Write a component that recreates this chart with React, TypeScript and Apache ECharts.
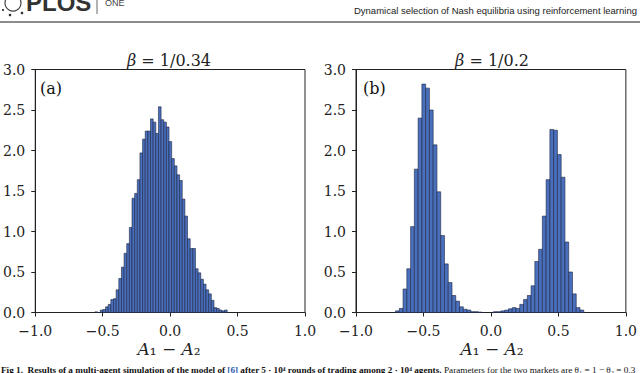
import React, { useEffect, useRef } from "react";
import * as echarts from "echarts";

// Panel (a): beta = 1/0.34 histogram
const leftBinStart = -0.557;
const leftBinWidth = 0.0196;
const leftHeights = [
  0.008, 0, 0.03, 0.037, 0.07, 0.1, 0.16, 0.17, 0.28, 0.42,
  0.56, 0.73, 0.85, 1.05, 1.41, 1.47, 1.64, 1.97, 2.14, 2.24,
  2.24, 2.39, 2.35, 2.21, 2.54, 2.38, 2.35, 2.29, 2.11, 1.9,
  1.81, 1.7, 1.63, 1.4, 1.19, 0.91, 0.79, 0.79, 0.54, 0.49,
  0.41, 0.35, 0.28, 0.23, 0.15, 0.06, 0.05, 0.03, 0.02, 0.03,
];

// Panel (b): beta = 1/0.2 histogram
const rightBinStart = -0.707;
const rightBinWidth = 0.0279;
const rightHeights = [
  0.02, 0.05, 0.29, 0.54, 1.06, 1.77, 2.4, 2.82, 2.77, 2.5,
  2.07, 1.49, 0.95, 0.6, 0.37, 0.21, 0.14, 0.07, 0.04, 0.03,
  0.01, 0.01, 0.005, 0, 0, 0, 0.01, 0.01, 0.02, 0.03,
  0.045, 0.06, 0.05, 0.1, 0.16, 0.21, 0.33, 0.63, 0.78, 1.19,
  1.64, 2.26, 2.25, 1.95, 1.67, 0.87, 0.5, 0.23, 0.06, 0.03,
];

const xTicks = [-1, -0.5, 0, 0.5, 1];
const yTicks = [0, 0.5, 1, 1.5, 2, 2.5, 3];
const panelTitles = ["1/0.34", "1/0.2"];
const panelTags = ["(a)", "(b)"];

const SERIF = "DejaVu Serif";
const TXT = "#222";

function buildBins(start: number, width: number, heights: number[]) {
  return heights.map((h, i) => [start + i * width, start + (i + 1) * width, h]);
}

const fmt = (v: number) => (v < 0 ? "\u2212" : "") + Math.abs(v).toFixed(1);

export default function App() {
  const ref = useRef<HTMLDivElement>(null);
  useEffect(() => {
    if (!ref.current) return;
    const chart = echarts.init(ref.current, undefined, { renderer: "svg" });
    const grids = [
      { left: 33, top: 69.5, width: 272, height: 243 },
      { left: 356, top: 69.5, width: 272, height: 243 },
    ];
    const renderItem = (params: any, api: any) => {
      const x0 = api.value(0);
      const x1 = api.value(1);
      const h = api.value(2);
      if (!h) return null;
      const p0 = api.coord([x0, h]);
      const p1 = api.coord([x1, 0]);
      return {
        type: "rect",
        shape: { x: p0[0], y: p0[1], width: p1[0] - p0[0], height: p1[1] - p0[1] },
        style: { fill: "#4a6fbd", stroke: "#1c2540", lineWidth: 0.6 },
      };
    };
    const centers = grids.map((g) => g.left + g.width / 2);
    const option: any = {
      animation: false,
      grid: grids.map((g) => ({
        ...g,
        show: true,
        borderColor: "#222",
        borderWidth: 1,
        backgroundColor: "transparent",
      })),
      xAxis: grids.map((_, i) => ({
        type: "value",
        gridIndex: i,
        min: xTicks[0],
        max: xTicks[xTicks.length - 1],
        interval: 0.5,
        axisLine: { show: true, onZero: false, lineStyle: { color: "#222", width: 1 } },
        axisTick: { show: true, length: 4, lineStyle: { color: "#222" } },
        splitLine: { show: false },
        axisLabel: {
          formatter: fmt,
          fontFamily: SERIF,
          fontSize: 14,
          color: TXT,
          margin: 11,
        },
      })),
      yAxis: grids.map((_, i) => ({
        type: "value",
        gridIndex: i,
        min: yTicks[0],
        max: yTicks[yTicks.length - 1],
        interval: 0.5,
        axisLine: { show: true, onZero: false, lineStyle: { color: "#222", width: 1 } },
        axisTick: { show: true, length: 4, lineStyle: { color: "#222" } },
        splitLine: { show: false },
        axisLabel: {
          formatter: fmt,
          fontFamily: SERIF,
          fontSize: 14,
          color: TXT,
          margin: 10,
        },
      })),
      series: [
        {
          type: "custom",
          xAxisIndex: 0,
          yAxisIndex: 0,
          renderItem,
          encode: { x: [0, 1], y: 2 },
          data: buildBins(leftBinStart, leftBinWidth, leftHeights),
        },
        {
          type: "custom",
          xAxisIndex: 1,
          yAxisIndex: 1,
          renderItem,
          encode: { x: [0, 1], y: 2 },
          data: buildBins(rightBinStart, rightBinWidth, rightHeights),
        },
      ],
      graphic: [
        // panel titles
        ...panelTitles.map((t, i) => ({
          type: "text",
          x: centers[i],
          y: 60,
          style: {
            text: "{i|\u03b2} = " + t,
            fontFamily: SERIF,
            fontSize: 16,
            fill: TXT,
            align: "center",
            verticalAlign: "middle",
            rich: { i: { fontStyle: "italic", fontFamily: SERIF, fontSize: 16, fill: TXT } },
          },
        })),
        // panel tags
        ...panelTags.map((t, i) => ({
          type: "text",
          x: grids[i].left + 7,
          y: 88,
          style: {
            text: t,
            fontFamily: SERIF,
            fontSize: 16,
            fill: "#111",
            align: "left",
            verticalAlign: "middle",
          },
        })),
        // x-axis names
        ...grids.map((_, i) => ({
          type: "text",
          x: centers[i],
          y: 349,
          style: {
            text: "{i|A}\u2081 \u2212 {i|A}\u2082",
            fontFamily: SERIF,
            fontSize: 17,
            fill: TXT,
            align: "center",
            verticalAlign: "middle",
            rich: { i: { fontStyle: "italic", fontFamily: SERIF, fontSize: 17, fill: TXT } },
          },
        })),
        // header
        {
          type: "text",
          x: 637,
          y: 10,
          style: {
            text: "Dynamical selection of Nash equilibria using reinforcement learning",
            fontFamily: "Liberation Sans",
            fontSize: 9.5,
            fill: "#222",
            align: "right",
            verticalAlign: "middle",
          },
        },
        {
          type: "line",
          shape: { x1: 0, y1: 22, x2: 640, y2: 22 },
          style: { stroke: "#8c8c8c", lineWidth: 2 },
        },
        {
          type: "text",
          x: 26,
          y: 2.5,
          style: {
            text: "PLOS",
            fontFamily: "Liberation Sans",
            fontWeight: "bold",
            fontSize: 24,
            fill: "#333",
            align: "left",
            verticalAlign: "middle",
          },
        },
        {
          type: "line",
          shape: { x1: 97, y1: 0, x2: 97, y2: 14 },
          style: { stroke: "#666", lineWidth: 1 },
        },
        {
          type: "text",
          x: 105,
          y: 2.5,
          style: {
            text: "ONE",
            fontFamily: "Liberation Sans",
            fontSize: 9,
            fill: "#444",
            align: "left",
            verticalAlign: "middle",
          },
        },
        {
          type: "circle",
          shape: { cx: 13, cy: 3, r: 8 },
          style: { fill: "none", stroke: "#444", lineWidth: 1.2 },
        },
        {
          type: "circle",
          shape: { cx: 10, cy: 15, r: 1.3 },
          style: { fill: "#333" },
        },
        {
          type: "circle",
          shape: { cx: 22, cy: 13, r: 1.3 },
          style: { fill: "#333" },
        },
        {
          type: "circle",
          shape: { cx: 3, cy: 10, r: 1.1 },
          style: { fill: "#333" },
        },
        // caption
        {
          type: "text",
          x: 1,
          y: 369.5,
          style: {
            text:
              "{b|Fig 1.  Results of a multi-agent simulation of the model of }{l|[6]}{b| after 5 \u00b7 10\u2074 rounds of trading among 2 \u00b7 10\u2074 agents.}{n| Parameters for the two markets are \u03b8\u2081 = 1 \u2212 \u03b8\u2082 = 0.3}",
            fontFamily: "Liberation Serif",
            fontSize: 9.2,
            fill: "#111",
            align: "left",
            verticalAlign: "middle",
            rich: {
              b: { fontFamily: "Liberation Serif", fontWeight: "bold", fontSize: 9.2, fill: "#111" },
              l: { fontFamily: "Liberation Serif", fontWeight: "bold", fontSize: 9.2, fill: "#2a5db0" },
              n: { fontFamily: "Liberation Serif", fontSize: 9.2, fill: "#111" },
            },
          },
        },
      ],
    };
    chart.setOption(option);
    return () => chart.dispose();
  }, []);
  return (
    <div
      ref={ref}
      style={{ position: "fixed", left: 0, top: 0, width: 640, height: 373, background: "#fff" }}
    />
  );
}
